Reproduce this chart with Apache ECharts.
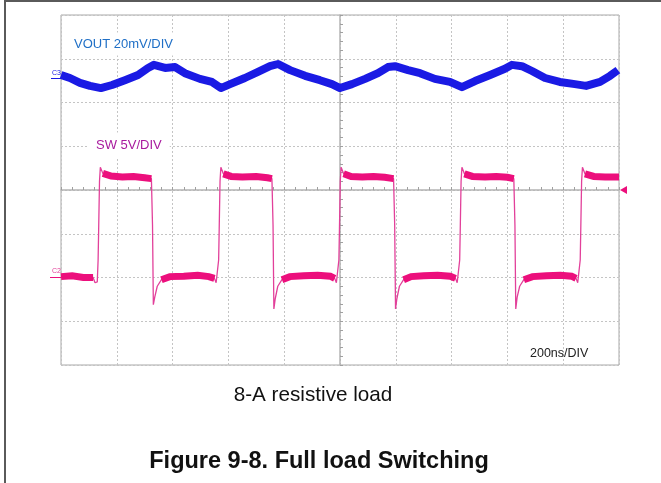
<!DOCTYPE html>
<html>
<head>
<meta charset="utf-8">
<script src="https://cdn.jsdelivr.net/npm/echarts@6/dist/echarts.min.js"></script>
<style>
html,body{margin:0;padding:0;background:#fff;}
#chart{width:661px;height:483px;}
</style>
</head>
<body>
<div id="chart"></div>
<script>
// Time axis: ns relative to trigger (scope centre), 200 ns/DIV
var xTicks = [-1000, -800, -600, -400, -200, 0, 200, 400, 600, 800, 1000];
// Vertical in screen divisions
var yTicks = [-4, -3, -2, -1, 0, 1, 2, 3, 4];

// VOUT trace (20 mV/DIV): time (ns), level (div)
var voutTime = [-1000, -968, -932, -896, -857, -817, -771, -724, -688, -667, -627, -591, -556, -502, -459, -427, -394, -341, -294, -251, -222, -179, -125, -72, -29, 0, 43, 90, 136, 172, 197, 244, 287, 340, 394, 437, 484, 538, 591, 616, 652, 688, 735, 788, 842, 882, 932, 968, 996];
var voutDiv  = [2.63, 2.56, 2.45, 2.38, 2.33, 2.40, 2.51, 2.63, 2.79, 2.86, 2.79, 2.81, 2.67, 2.54, 2.47, 2.33, 2.42, 2.56, 2.70, 2.83, 2.88, 2.74, 2.61, 2.51, 2.42, 2.33, 2.42, 2.54, 2.67, 2.81, 2.83, 2.74, 2.67, 2.54, 2.47, 2.35, 2.49, 2.63, 2.77, 2.86, 2.83, 2.72, 2.56, 2.47, 2.42, 2.38, 2.47, 2.61, 2.74];

// SW trace (5 V/DIV): time (ns), level (div)
var swTime = [-1000, -960, -920, -885, -878, -870, -867, -865, -862, -859, -850, -820, -780, -740, -700, -676, -672, -669, -664, -655, -640, -610, -560, -510, -470, -450, -444, -437, -435, -433, -430, -427, -418, -390, -350, -300, -260, -244, -240, -237, -232, -223, -208, -180, -130, -80, -35, -19, -13, -6, -4, -2, 1, 4, 13, 40, 80, 120, 160, 192, 196, 199, 204, 213, 228, 255, 300, 350, 395, 414, 420, 427, 429, 431, 434, 437, 446, 475, 520, 560, 600, 623, 627, 630, 635, 644, 659, 690, 740, 790, 830, 846, 852, 859, 861, 863, 866, 869, 878, 910, 950, 1000];
var swDiv  = [-1.98, -1.96, -2.0, -2.0, -2.12, -2.1, -1.6, -0.9, 0.2, 0.52, 0.38, 0.32, 0.30, 0.31, 0.28, 0.26, -0.8, -2.62, -2.45, -2.2, -2.05, -1.98, -1.97, -1.95, -1.98, -2.02, -2.12, -2.1, -1.6, -0.9, 0.2, 0.52, 0.37, 0.31, 0.30, 0.31, 0.28, 0.26, -0.8, -2.72, -2.48, -2.2, -2.05, -1.98, -1.96, -1.95, -1.97, -2.02, -2.12, -2.1, -1.6, -0.9, 0.2, 0.52, 0.37, 0.31, 0.30, 0.31, 0.29, 0.26, -0.8, -2.72, -2.48, -2.2, -2.05, -1.98, -1.96, -1.95, -1.97, -2.02, -2.12, -2.1, -1.6, -0.9, 0.2, 0.52, 0.37, 0.31, 0.30, 0.31, 0.29, 0.26, -0.8, -2.72, -2.45, -2.2, -2.05, -1.98, -1.96, -1.95, -1.97, -2.02, -2.12, -2.1, -1.6, -0.9, 0.2, 0.52, 0.37, 0.31, 0.30, 0.30];

var voutData = voutTime.map(function (t, i) { return [t, voutDiv[i]]; });
var swData = swTime.map(function (t, i) { return [t, swDiv[i]]; });
// plateaus (noisy, thick band) vs. edges (thin)
var swBand = swTime.map(function (t, i) {
  var v = swDiv[i];
  var plateau = (v >= 0.25 && v <= 0.45) || (v >= -2.06 && v <= -1.9);
  return [t, plateau ? v : null];
});

var chart = echarts.init(document.getElementById('chart'), null, {renderer: 'canvas'});
var FONT = '"Liberation Sans", Arial, sans-serif';
var option = {
  animation: false,
  backgroundColor: '#ffffff',
  grid: {left: 61, right: 42, top: 15, bottom: 118, show: true, borderColor: '#a8a8a8', borderWidth: 1, backgroundColor: 'transparent'},
  xAxis: {
    type: 'value', min: xTicks[0], max: xTicks[xTicks.length - 1], interval: 200,
    axisLine: {show: true, onZero: true, lineStyle: {color: '#b4b4b4', width: 1.5}},
    axisTick: {show: true, length: 3, inside: true, lineStyle: {color: '#a0a0a0'}},
    minorTick: {show: true, splitNumber: 5, length: 3, lineStyle: {color: '#a0a0a0'}},
    axisLabel: {show: false},
    splitLine: {show: true, lineStyle: {color: '#c4c4c4', type: [2, 2], width: 1}}
  },
  yAxis: {
    type: 'value', min: yTicks[0], max: yTicks[yTicks.length - 1], interval: 1,
    axisLine: {show: true, onZero: true, lineStyle: {color: '#b4b4b4', width: 1.5}},
    axisTick: {show: true, length: 3, inside: true, lineStyle: {color: '#a0a0a0'}},
    minorTick: {show: true, splitNumber: 5, length: 3, lineStyle: {color: '#a0a0a0'}},
    axisLabel: {show: false},
    splitLine: {show: true, lineStyle: {color: '#c4c4c4', type: [2, 2], width: 1}}
  },
  series: [
    {type: 'line', name: 'VOUT', data: voutData, showSymbol: false, smooth: false,
     lineStyle: {color: '#1a1ae4', width: 8, join: 'round'}, z: 3},
    {type: 'line', name: 'SW', data: swData, showSymbol: false,
     lineStyle: {color: '#e2409a', width: 1.3}, z: 4},
    {type: 'line', name: 'SWband', data: swBand, showSymbol: false, connectNulls: false,
     lineStyle: {color: '#ec0f7c', width: 7, cap: 'butt', join: 'miter'}, z: 5}
  ],
  graphic: [
    {type: 'line', shape: {x1: 5, y1: 0, x2: 5, y2: 483}, style: {stroke: '#5a5a5a', lineWidth: 2}},
    {type: 'line', shape: {x1: 4, y1: 1, x2: 661, y2: 1}, style: {stroke: '#5a5a5a', lineWidth: 2}},
    {type: 'text', x: 66, y: 44, z: 10,
     style: {text: 'VOUT 20mV/DIV', font: '13px ' + FONT, fill: '#1f6fc6', verticalAlign: 'middle', backgroundColor: '#fff', padding: [5, 8]}},
    {type: 'text', x: 88, y: 145, z: 10,
     style: {text: 'SW 5V/DIV', font: '13px ' + FONT, fill: '#a81a9e', verticalAlign: 'middle', backgroundColor: '#fff', padding: [6, 8]}},
    {type: 'text', x: 52, y: 73, z: 10,
     style: {text: 'C3', font: '7px ' + FONT, fill: '#1818e6', verticalAlign: 'middle'}},
    {type: 'line', shape: {x1: 51, y1: 78.5, x2: 61, y2: 78.5}, style: {stroke: '#1818e6', lineWidth: 1}},
    {type: 'text', x: 52, y: 271, z: 10,
     style: {text: 'C2', font: '7px ' + FONT, fill: '#e2409a', verticalAlign: 'middle'}},
    {type: 'line', shape: {x1: 50, y1: 277.5, x2: 61, y2: 277.5}, style: {stroke: '#ec0f7c', lineWidth: 1}},
    {type: 'polygon', shape: {points: [[620, 190], [627, 186], [627, 194]]}, style: {fill: '#ec0f7c'}},
    {type: 'text', x: 530, y: 354, z: 10,
     style: {text: '200ns/DIV', font: '12.5px ' + FONT, fill: '#222', verticalAlign: 'middle'}},
    {type: 'text', x: 313, y: 395, z: 10,
     style: {text: '8-A resistive load', font: '20.7px ' + FONT, fill: '#111', align: 'center', verticalAlign: 'middle'}},
    {type: 'text', x: 319, y: 462, z: 10,
     style: {text: 'Figure 9-8. Full load Switching', font: 'bold 23.5px ' + FONT, fill: '#111', align: 'center', verticalAlign: 'middle'}}
  ]
};
chart.setOption(option);
</script>
</body>
</html>
